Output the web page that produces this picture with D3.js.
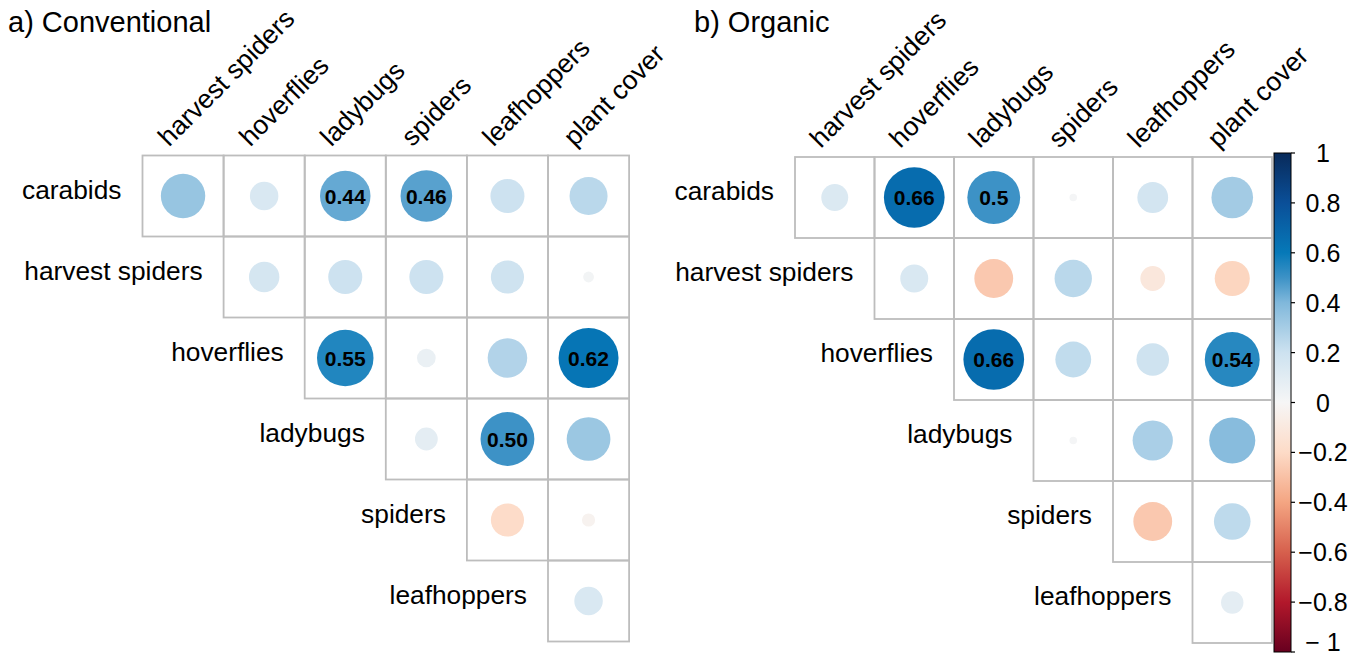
<!DOCTYPE html>
<html><head><meta charset="utf-8">
<script src="https://cdn.jsdelivr.net/npm/d3@7"></script>
<style>body{margin:0;background:#fff}svg{display:block;font-family:"Liberation Sans",Arial,sans-serif}</style>
</head><body><svg id="c" width="1369" height="655"></svg>
<script>
const rowLabels = ["carabids","harvest spiders","hoverflies","ladybugs","spiders","leafhoppers"];
const colLabels = ["harvest spiders","hoverflies","ladybugs","spiders","leafhoppers","plant cover"];
// upper-triangle rows: row i starts at column i
const convValues = [
  [0.34, 0.14, 0.44, 0.46, 0.20, 0.25],
  [0.16, 0.20, 0.20, 0.19, 0.02],
  [0.55, 0.06, 0.27, 0.62],
  [0.09, 0.50, 0.33],
  [-0.19, -0.03],
  [0.14]
];
const convText = [
  [null, null, "0.44", "0.46", null, null],
  [null, null, null, null, null],
  ["0.55", null, null, "0.62"],
  [null, "0.50", null],
  [null, null],
  [null]
];
const orgValues = [
  [0.13, 0.66, 0.50, 0.01, 0.17, 0.31],
  [0.14, -0.27, 0.25, -0.11, -0.22],
  [0.66, 0.23, 0.19, 0.54],
  [0.01, 0.29, 0.38],
  [-0.27, 0.24],
  [0.09]
];
const orgText = [
  [null, "0.66", "0.5", null, null, null],
  [null, null, null, null, null],
  ["0.66", null, null, "0.54"],
  [null, null, null],
  [null, null],
  [null]
];
const titles = ["a) Conventional", "b) Organic"];
const legendTicks = [1, 0.8, 0.6, 0.4, 0.2, 0, -0.2, -0.4, -0.6, -0.8, -1];
const legendTickLabels = ["1","0.8","0.6","0.4","0.2","0","\u22120.2","\u22120.4","\u22120.6","\u22120.8","\u2212 1"];

const colorStops = [-1, -0.8, -0.6, -0.4, -0.2, 0, 0.2, 0.4, 0.5, 0.6, 0.8, 1];
const colorRange = ["#67001f","#b2182b","#d6604d","#f4a582","#fddbc7","#f6f6f6","#cde2f0","#80b8db","#3d92c6","#0679b8","#0a4f98","#082a5a"];
const color = d3.scaleLinear().domain(colorStops).range(colorRange).interpolate(d3.interpolateRgb);

const svg = d3.select("#c");

function panel(cfg, values, texts, title) {
  const g = svg.append("g");
  const x = d3.scaleBand().domain(d3.range(6)).range([cfg.x0, cfg.x0 + 6*cfg.cw]).padding(0);
  const y = d3.scaleBand().domain(d3.range(6)).range([cfg.y0, cfg.y0 + 6*cfg.ch]).padding(0);
  const r = d3.scaleSqrt().domain([0,1]).range([0, 0.94*Math.min(x.bandwidth(), y.bandwidth())/2]);
  const cells = [];
  values.forEach((row, i) => row.forEach((v, k) => cells.push({i, j: i+k, v, t: texts[i][k]})));

  g.append("text").attr("x", cfg.tx).attr("y", 32).attr("font-size", 29).attr("fill","#000").text(title);

  g.selectAll("rect.cell").data(cells).join("rect").attr("class","cell")
    .attr("x", d => x(d.j)).attr("y", d => y(d.i))
    .attr("width", x.bandwidth()).attr("height", y.bandwidth())
    .attr("fill","none").attr("stroke","#bdbdbd").attr("stroke-width",1.8);

  g.selectAll("circle").data(cells).join("circle")
    .attr("cx", d => x(d.j) + x.bandwidth()/2).attr("cy", d => y(d.i) + y.bandwidth()/2)
    .attr("r", d => r(Math.abs(d.v))).attr("fill", d => color(d.v));

  g.selectAll("text.num").data(cells.filter(d => d.t)).join("text").attr("class","num")
    .attr("x", d => x(d.j) + x.bandwidth()/2).attr("y", d => y(d.i) + y.bandwidth()/2)
    .attr("dy","0.36em").attr("text-anchor","middle").attr("font-size",21).attr("font-weight","bold")
    .attr("fill","#000").text(d => d.t);

  g.selectAll("text.rl").data(rowLabels).join("text").attr("class","rl")
    .attr("x", (d,i) => x(i) - 21).attr("y", (d,i) => y(i) + y.bandwidth()/2 + 2.5)
    .attr("text-anchor","end").attr("font-size",26.3).attr("fill","#000").text(d => d);

  g.selectAll("text.cl").data(colLabels).join("text").attr("class","cl")
    .attr("transform", (d,j) => `translate(${x(j) + x.bandwidth()/2 - 14},${cfg.y0 - 8}) rotate(-45)`)
    .attr("text-anchor","start").attr("font-size",26.5).attr("fill","#000").text(d => d);
}

panel({x0:142.5, y0:155.5, cw:81.1, ch:81, tx:8}, convValues, convText, titles[0]);
panel({x0:795, y0:157, cw:79.5, ch:81, tx:694}, orgValues, orgText, titles[1]);

// colour legend
const ly = d3.scaleLinear().domain([1,-1]).range([153, 652]);
const lx0 = 1274, lw = 17;
const defs = svg.append("defs");
const grad = defs.append("linearGradient").attr("id","lg").attr("x1",0).attr("y1",0).attr("x2",0).attr("y2",1);
const stopIdx = d3.range(colorStops.length).reverse();
stopIdx.forEach(k => grad.append("stop").attr("offset", (1 - colorStops[k])/2).attr("stop-color", colorRange[k]));
svg.append("rect").attr("x", lx0).attr("y", ly(1)).attr("width", lw).attr("height", ly(-1) - ly(1))
  .attr("fill","url(#lg)").attr("stroke","#000").attr("stroke-width",1);
const lg = svg.append("g");
lg.selectAll("line").data(legendTicks).join("line")
  .attr("x1", lx0 + lw).attr("x2", lx0 + lw + 4).attr("y1", d => ly(d)).attr("y2", d => ly(d))
  .attr("stroke","#000").attr("stroke-width",1.2);
lg.selectAll("text").data(legendTicks).join("text")
  .attr("x", 1323).attr("y", d => Math.min(ly(d), 642)).attr("dy","0.36em").attr("text-anchor","middle")
  .attr("font-size",25).attr("fill","#000").text((d,k) => legendTickLabels[k]);
</script></body></html>
